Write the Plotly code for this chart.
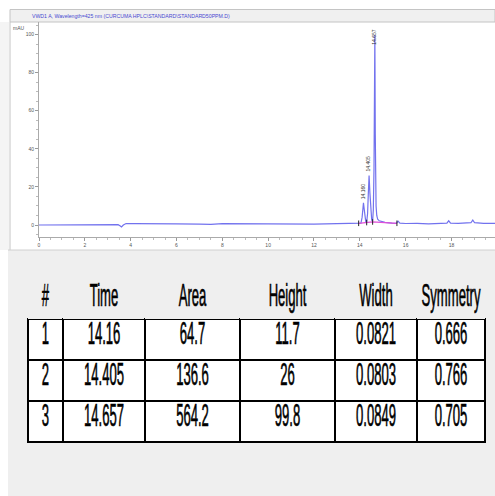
import plotly.graph_objects as go

# ---------------- data ----------------
time_min = [0, 1, 2, 3, 3.45, 3.55, 3.6, 3.68, 3.8, 4.2, 5, 6, 7, 7.5, 8, 9, 10, 11, 12, 13, 13.8,
            14.05, 14.10, 14.13, 14.16, 14.19, 14.22, 14.26, 14.30, 14.34, 14.37, 14.405, 14.44,
            14.48, 14.52, 14.56, 14.59, 14.62, 14.64, 14.657, 14.675, 14.69, 14.71, 14.74, 14.78,
            14.85, 14.95, 15.1, 15.4, 15.6, 15.67, 15.75, 16, 16.5, 17, 17.5, 17.8, 17.88, 17.96,
            18.3, 18.85, 18.93, 19.01, 19.4, 19.9]
signal_mau = [0, 0.1, 0.1, 0.1, 0.2, -0.5, -1.0, 0, 0.8, 0.7, 0.8, 0.6, 0.5, 0.3, 0.7, 0.6, 0.6,
              0.6, 0.5, 0.7, 0.8,
              1.0, 4.0, 9.0, 11.7, 8.5, 3.5, 1.8, 1.5, 6.0, 16.0, 26.0, 17.0,
              6.0, 2.5, 2.0, 8.0, 30.0, 55.0, 99.8, 48.0, 24.0, 10.0, 5.0, 3.0,
              2.2, 1.8, 1.4, 1.0, 0.9, 2.0, 1.0, 0.8, 0.9, 0.6, 0.8, 1.0, 2.2, 1.0,
              0.9, 1.2, 2.6, 1.2, 0.9, 0.9]
baseline_t = [13.95, 14.3, 14.56, 15.62]
baseline_v = [0.9, 1.3, 1.6, 0.9]

peak_times = [14.160, 14.405, 14.657]
peak_heights = [11.7, 26.0, 99.8]
peak_labels = ["14.160", "14.405", "14.657"]

x_ticks = [0, 2, 4, 6, 8, 10, 12, 14, 16, 18, 20]
y_ticks = [0, 20, 40, 60, 80, 100]

table_headers = ["#", "Time", "Area", "Height", "Width", "Symmetry"]
peak_no = ["1", "2", "3"]
time_col = ["14.16", "14.405", "14.657"]
area_col = ["64.7", "136.6", "564.2"]
height_col = ["11.7", "26", "99.8"]
width_col = ["0.0821", "0.0803", "0.0849"]
symmetry_col = ["0.666", "0.766", "0.705"]

title_text = "VWD1 A, Wavelength=425 nm (CURCUMA HPLC\\STANDARD\\STANDARD50PPM.D)"

# ---------------- layout helpers ----------------
W, H = 495, 496
BG = "#efefef"
LINE = "#7272ee"
TFONT = "Liberation Sans, Arial, sans-serif"
SMALL = "Liberation Sans, Arial, sans-serif"


def px(x):
    return x / W


def py(y):
    return 1 - y / H


fig = go.Figure()

fig.add_trace(go.Scatter(x=time_min, y=signal_mau, mode="lines",
                         line=dict(color=LINE, width=1.2), hoverinfo="skip",
                         showlegend=False, xaxis="x", yaxis="y"))
fig.add_trace(go.Scatter(x=baseline_t, y=baseline_v, mode="lines+markers",
                         line=dict(color="#e050d8", width=1.2),
                         marker=dict(symbol="line-ns", size=4, color="#222",
                                     line=dict(width=1, color="#222")),
                         hoverinfo="skip", showlegend=False))

fig.add_trace(go.Table(
    domain=dict(x=[px(28), px(485)], y=[0, py(281)]),
    columnwidth=[35, 82, 95, 95, 82, 68],
    header=dict(values=table_headers, fill_color=BG, line=dict(color=BG, width=0),
                height=38, align="center",
                font=dict(family=TFONT, size=17, color="black")),
    cells=dict(values=[peak_no, time_col, area_col, height_col, width_col, symmetry_col],
               fill_color="white", line=dict(color="black", width=1.5),
               height=41, align="center",
               font=dict(family=TFONT, size=17, color="black")),
))

label_offsets = [2, 2, -12]
annotations = []
for t, h, lab, off in zip(peak_times, peak_heights, peak_labels, label_offsets):
    annotations.append(dict(x=t, y=h, xref="x", yref="y", text=lab, textangle=-90,
                            showarrow=False, xanchor="center", yanchor="bottom",
                            yshift=off, xshift=-1,
                            font=dict(size=5, color="#333", family=SMALL)))
annotations.append(dict(x=px(131), y=py(15.5), xref="paper", yref="paper", text=title_text,
                        showarrow=False, xanchor="center", yanchor="middle",
                        font=dict(size=5.2, color="#4848d0", family=SMALL)))
annotations.append(dict(x=px(27), y=py(28), xref="paper", yref="paper", text="mAU",
                        showarrow=False, xanchor="right", yanchor="middle",
                        font=dict(size=5, color="#555", family=SMALL)))

shapes = [
    dict(type="rect", xref="paper", yref="paper", x0=0, x1=px(9), y0=py(250), y1=py(22),
         fillcolor="#f4f4f4", line=dict(width=0), layer="below"),
    dict(type="line", xref="paper", yref="paper", x0=px(10), x1=px(10), y0=py(250), y1=py(22),
         line=dict(color="#c4c4c4", width=1)),
    dict(type="rect", xref="paper", yref="paper", x0=px(10), x1=1, y0=py(22), y1=py(9.5),
         fillcolor="#f0f0f0", line=dict(color="#c4c4c4", width=1), layer="below"),
    dict(type="rect", xref="paper", yref="paper", x0=px(8), x1=1, y0=0, y1=py(250),
         fillcolor=BG, line=dict(width=0), layer="below"),
    dict(type="line", xref="paper", yref="paper", x0=px(8), x1=1, y0=py(250), y1=py(250),
         line=dict(color="#d0d0d0", width=1)),
]

fig.update_layout(
    width=W, height=H, margin=dict(l=0, r=0, t=0, b=0),
    paper_bgcolor="white", plot_bgcolor="white",
    showlegend=False, annotations=annotations, shapes=shapes,
    xaxis=dict(domain=[px(39), 1], range=[0, 19.9], tickvals=x_ticks,
               ticktext=[str(v) for v in x_ticks], ticks="outside", ticklen=3,
               tickcolor="#999", showline=True, linecolor="#aaa", linewidth=1,
               showgrid=False, zeroline=False,
               minor=dict(dtick=0.5, ticks="outside", ticklen=2, tickcolor="#bbb"),
               tickfont=dict(size=5, color="#555", family=SMALL)),
    yaxis=dict(domain=[py(237), py(22)], range=[-6.3, 106.6], tickvals=y_ticks,
               ticktext=[str(v) for v in y_ticks], ticks="outside", ticklen=3,
               tickcolor="#999", showline=True, linecolor="#aaa", linewidth=1,
               showgrid=False, zeroline=False,
               minor=dict(dtick=5, ticks="outside", ticklen=2, tickcolor="#bbb"),
               tickfont=dict(size=5, color="#555", family=SMALL)),
)

post = """
document.body.style.margin = '0';
document.body.style.padding = '0';
var s = document.createElement('style');
s.textContent = '.cell-text{transform-box:fill-box;transform-origin:50% 50%;'
  + 'transform:scale(0.77,1.8);stroke:#000;stroke-width:0.35px;}';
document.head.appendChild(s);
"""
fig.write_html("out.html", post_script=post, config={"displayModeBar": False})
